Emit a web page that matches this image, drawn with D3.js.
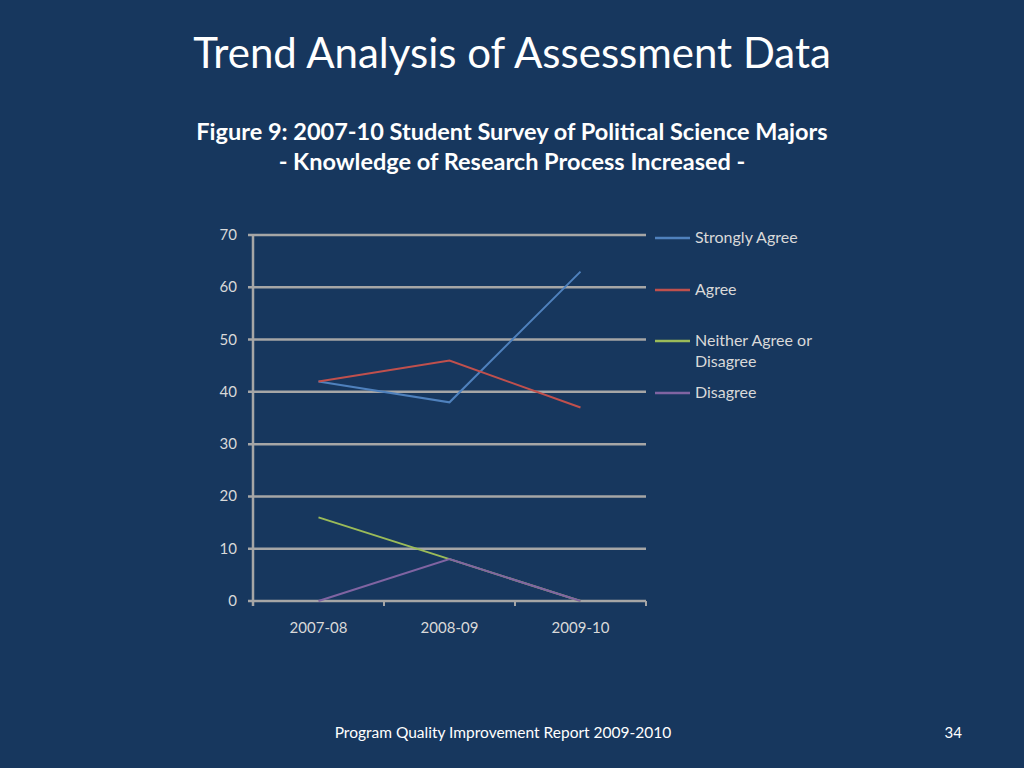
<!DOCTYPE html><html><head><meta charset="utf-8">
<script src="https://cdn.jsdelivr.net/npm/d3@7"></script>
<style>body{margin:0;background:#17375e;}svg{display:block;}</style></head><body>
<svg id="c" width="1024" height="768"></svg>
<script>
const categories=["2007-08","2008-09","2009-10"];
const stronglyAgree=[42,38,63];
const agree=[42,46,37];
const neither=[16,8,0];
const disagree=[0,8,0];
const yTicks=[0,10,20,30,40,50,60,70];
const series=[
 {name:["Strongly Agree"],values:stronglyAgree,color:"#4f81bd"},
 {name:["Agree"],values:agree,color:"#c0504d"},
 {name:["Neither Agree or","Disagree"],values:neither,color:"#9bbb59"},
 {name:["Disagree"],values:disagree,color:"#8064a2"}];
const svg=d3.select("#c");
svg.append("rect").attr("width",1024).attr("height",768).attr("fill","#17375e");
const font="Lato, 'Open Sans', sans-serif";
svg.append("text").attr("x",512).attr("y",68).attr("text-anchor","middle").attr("fill","#fff").attr("font-family",font).attr("font-size",42).text("Trend Analysis of Assessment Data");
svg.append("text").attr("x",512).attr("y",140).attr("text-anchor","middle").attr("fill","#fff").attr("font-family",font).attr("font-weight","bold").attr("font-size",23.5).text("Figure 9: 2007-10 Student Survey of Political Science Majors");
svg.append("text").attr("x",512).attr("y",170).attr("text-anchor","middle").attr("fill","#fff").attr("font-family",font).attr("font-weight","bold").attr("font-size",23.5).text("- Knowledge of Research Process Increased -");
const x=d3.scalePoint().domain(categories).range([253,646]).padding(0.5);
const y=d3.scaleLinear().domain([0,70]).range([601,235]);
const g=svg.append("g");
yTicks.forEach(t=>{
 g.append("line").attr("x1",248).attr("x2",646).attr("y1",y(t)).attr("y2",y(t)).attr("stroke","#a6a6a6").attr("stroke-width",2.5);
 g.append("text").attr("x",237).attr("y",y(t)+5).attr("text-anchor","end").attr("fill","#d9d9d9").attr("font-family",font).attr("font-size",15).text(t);
});
g.append("line").attr("x1",253).attr("x2",253).attr("y1",235).attr("y2",606).attr("stroke","#a6a6a6").attr("stroke-width",2.5);
[253,384,515,646].forEach(v=>g.append("line").attr("x1",v).attr("x2",v).attr("y1",601).attr("y2",606).attr("stroke","#a6a6a6").attr("stroke-width",2));
categories.forEach(c=>g.append("text").attr("x",x(c)).attr("y",633).attr("text-anchor","middle").attr("fill","#d9d9d9").attr("font-family",font).attr("font-size",15).text(c));
const line=d3.line().x((d,i)=>x(categories[i])).y(d=>y(d));
series.forEach(s=>g.append("path").attr("d",line(s.values)).attr("fill","none").attr("stroke",s.color).attr("stroke-width",2));
const ly=[238,290,341,393];
series.forEach((s,i)=>{
 g.append("line").attr("x1",655).attr("x2",690).attr("y1",ly[i]).attr("y2",ly[i]).attr("stroke",s.color).attr("stroke-width",2.5);
 s.name.forEach((n,j)=>g.append("text").attr("x",695).attr("y",ly[i]+5+j*21).attr("fill","#d9d9d9").attr("font-family",font).attr("font-size",16).text(n));
});
svg.append("text").attr("x",503).attr("y",738).attr("text-anchor","middle").attr("fill","#fff").attr("font-family",font).attr("font-size",15.5).text("Program Quality Improvement Report 2009-2010");
svg.append("text").attr("x",962).attr("y",738).attr("text-anchor","end").attr("fill","#fff").attr("font-family",font).attr("font-size",15).text("34");
</script></body></html>
